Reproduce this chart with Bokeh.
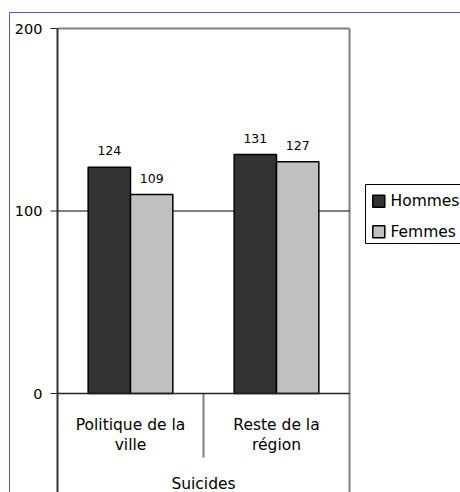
from bokeh.plotting import figure
from bokeh.models import Range1d, ColumnDataSource
from bokeh.core.properties import value
from bokeh.embed import file_html
from bokeh.resources import INLINE

# ---- data ----
categories = ["Politique de la\nville", "Reste de la\nrégion"]
group_label = "Suicides"
series = ["Hommes", "Femmes"]
hommes = [124, 131]
femmes = [109, 127]
y_ticks = [0, 100, 200]
colors = ["#333333", "#c0c0c0"]

# ---- geometry (canvas pixels) ----
W, H = 460, 492
X0_PX = 57.0      # canvas x of the plot-area left edge
Y0_PX = 393.0     # canvas y of the zero line
PX_X = 146.0      # pixels per category
PX_Y = 1.825      # pixels per value unit
FONT = value("DejaVu Sans")
K = 0.35          # empirical baseline correction (fraction of font size)


def cx(px):
    return (px - X0_PX) / PX_X


def cy(py):
    return (Y0_PX - py) / PX_Y


p = figure(width=W, height=H,
           x_range=Range1d(cx(0), cx(W)), y_range=Range1d(cy(H), cy(0)),
           output_backend="svg", toolbar_location=None, min_border=0,
           x_axis_type=None, y_axis_type=None, outline_line_color=None,
           background_fill_color="white", border_fill_color="white")
p.grid.visible = False

n = len(categories)
ymax = max(y_ticks)

# outer chart border (blue)
p.segment(x0=[cx(9), cx(9)], y0=[cy(12), cy(12)], x1=[cx(W + 2), cx(9)], y1=[cy(12), cy(H + 2)],
          line_color="#5a5aaa", line_width=1)

# plot area borders
p.segment(x0=[0], y0=[ymax], x1=[n], y1=[ymax], line_color="#808080", line_width=2)
p.segment(x0=[n], y0=[cy(H + 2)], x1=[n], y1=[ymax], line_color="#808080", line_width=2)
# gridline(s) other than 0 and max
mid = [t for t in y_ticks if 0 < t < ymax]
p.segment(x0=[0] * len(mid), y0=mid, x1=[n] * len(mid), y1=mid, line_color="black", line_width=1)
# category separators below the axis
seps = list(range(1, n))
p.segment(x0=seps, y0=[0] * len(seps), x1=seps, y1=[cy(457)] * len(seps),
          line_color="#808080", line_width=2)

# bars
bar_w = 0.29
for vals, col, off in zip([hommes, femmes], colors, [-bar_w / 2, bar_w / 2]):
    xs = [i + 0.5 + off for i in range(n)]
    src = ColumnDataSource(dict(x=xs, top=vals, label=[str(v) for v in vals]))
    p.vbar(x="x", top="top", bottom=0, width=bar_w, source=src,
           fill_color=col, line_color="black", line_width=1.5)
    p.text(x="x", y="top", text="label", source=src, text_align="center",
           text_baseline="alphabetic", y_offset=-12 - K * 12.5, text_font=FONT,
           text_font_size="12.5px", text_color="black")

# value axis
p.segment(x0=[0], y0=[cy(H + 2)], x1=[0], y1=[ymax], line_color="#333333", line_width=2)
p.segment(x0=[cx(50)] * len(y_ticks), y0=y_ticks, x1=[0] * len(y_ticks), y1=y_ticks,
          line_color="#222222", line_width=1)
p.segment(x0=[0], y0=[0], x1=[n], y1=[0], line_color="#222222", line_width=1.5)
p.text(x=[cx(42)] * len(y_ticks), y=y_ticks, text=[str(t) for t in y_ticks],
       text_align="right", text_baseline="alphabetic", y_offset=5.5 - K * 14.5,
       text_font=FONT, text_font_size="14.5px", text_color="black")

# category labels
line1 = [c.split("\n")[0] for c in categories]
line2 = [c.split("\n")[1] for c in categories]
cxs = [i + 0.5 for i in range(n)]
p.text(x=cxs, y=[0] * n, text=line1, text_align="center", text_baseline="alphabetic",
       y_offset=36.5 - K * 15.5, text_font=FONT, text_font_size="15.5px", text_color="black")
p.text(x=cxs, y=[0] * n, text=line2, text_align="center", text_baseline="alphabetic",
       y_offset=57 - K * 15.5, text_font=FONT, text_font_size="15.5px", text_color="black")
p.text(x=[n / 2], y=[0], text=[group_label], text_align="center", text_baseline="alphabetic",
       y_offset=95.5 - K * 15.5, text_font=FONT, text_font_size="15.5px", text_color="black")

# legend
p.quad(left=[cx(365)], right=[cx(W + 20)], top=[cy(184)], bottom=[cy(243)],
       fill_color="white", line_color="black", line_width=1)
leg_y = [cy(200.7), cy(231.3)]
p.scatter(x=[cx(378.3)] * len(series), y=leg_y, marker="square", size=12,
          fill_color=colors, line_color="black", line_width=1.5)
p.text(x=[cx(390)] * len(series), y=leg_y, text=series, text_align="left",
       text_baseline="alphabetic", y_offset=5.2 - K * 15.5, text_font=FONT,
       text_font_size="15.5px", text_color="black")

open("out.html", "w").write(file_html(p, INLINE))
